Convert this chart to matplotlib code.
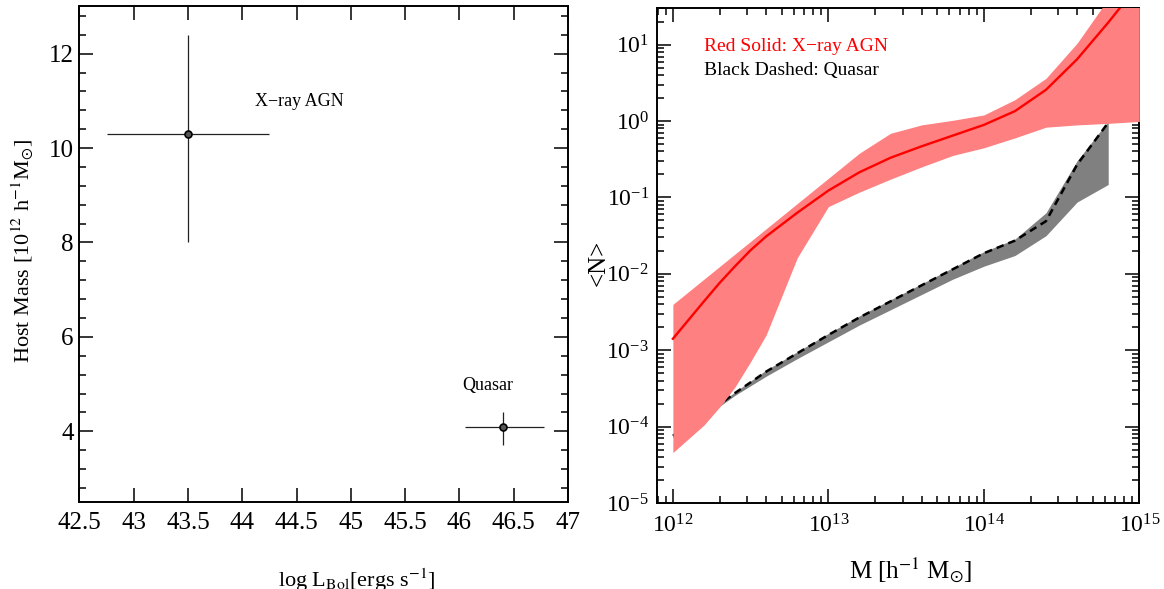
import numpy as np
import matplotlib
matplotlib.use('Agg')
import matplotlib.pyplot as plt
from matplotlib.ticker import MultipleLocator, AutoMinorLocator, FormatStrFormatter, LogLocator

plt.rcParams['font.family'] = ['Liberation Serif', 'DejaVu Serif']
plt.rcParams['mathtext.fontset'] = 'stix'

# left panel: host mass vs bolometric luminosity
names = ['X\u2212ray AGN', 'Quasar']
lbol = [43.5, 46.4]
lbol_err_lo = [0.75, 0.35]
lbol_err_hi = [0.75, 0.38]
mhost = [10.3, 4.1]
mhost_err_lo = [2.3, 0.4]
mhost_err_hi = [2.1, 0.3]
label_x = [44.12, 46.03]
label_y = [10.98, 4.98]

# right panel: <N>(M), log10 values
logm = [12.0, 12.2, 12.3, 12.4, 12.5, 12.6, 12.8, 13.0, 13.2, 13.4, 13.6, 13.8,
        14.0, 14.2, 14.4, 14.6, 14.8, 15.0]
agn_mid = [-2.85, -2.36, -2.12, -1.90, -1.69, -1.51, -1.20, -0.91, -0.67, -0.48, -0.33, -0.19,
           -0.05, 0.13, 0.41, 0.81, 1.29, 1.80]
agn_hi = [-2.40, -2.07, -1.905, -1.74, -1.575, -1.41, -1.08, -0.75, -0.42, -0.16, -0.05, 0.01,
          0.08, 0.28, 0.56, 1.02, 1.60, 2.20]
agn_lo = [-4.34, -3.98, -3.745, -3.48, -3.15, -2.80, -1.79, -1.12, -0.93, -0.76, -0.60, -0.45,
          -0.35, -0.22, -0.08, -0.05, -0.03, -0.005]

logm_q = [12.0, 12.2, 12.4, 12.6, 12.8, 13.0, 13.2, 13.4, 13.6, 13.8,
          14.0, 14.2, 14.4, 14.6, 14.8]
qso_mid = [-4.12, -3.86, -3.56, -3.28, -3.04, -2.80, -2.57, -2.36, -2.15, -1.94,
           -1.73, -1.565, -1.31, -0.57, -0.02]
qso_hi = [-4.11, -3.85, -3.545, -3.26, -3.02, -2.78, -2.55, -2.34, -2.13, -1.92,
          -1.71, -1.545, -1.20, -0.52, 0.0]
qso_lo = [-4.14, -3.88, -3.59, -3.34, -3.11, -2.89, -2.67, -2.47, -2.27, -2.07,
          -1.90, -1.76, -1.50, -1.06, -0.83]

fig = plt.figure(figsize=(11.64, 5.89), dpi=100)
ax1 = fig.add_axes([0.0682, 0.1475, 0.4198, 0.8415])
ax2 = fig.add_axes([0.5647, 0.146, 0.4141, 0.840])

for ax in (ax1, ax2):
    for s in ax.spines.values():
        s.set_linewidth(1.4)
    ax.tick_params(which='both', direction='in', top=True, right=True, width=1.1)
    ax.tick_params(which='major', length=10)
    ax.tick_params(which='minor', length=5)

# ---- left
ax1.errorbar(lbol, mhost, xerr=[lbol_err_lo, lbol_err_hi],
             yerr=[mhost_err_lo, mhost_err_hi], fmt='o', color='#222222',
             ms=5, mfc='#555555', mec='black', mew=1.2, elinewidth=0.9, capsize=0)
for n, x, y in zip(names, label_x, label_y):
    ax1.text(x, y, n, fontsize=13, va='center')
ax1.set_xlim(42.5, 47)
ax1.set_ylim(2.5, 13)
ax1.xaxis.set_major_locator(MultipleLocator(0.5))
ax1.xaxis.set_major_formatter(FormatStrFormatter('%g'))
ax1.yaxis.set_major_locator(MultipleLocator(2))
ax1.yaxis.set_minor_locator(AutoMinorLocator(5))
ax1.tick_params(labelsize=18)
ax1.tick_params(axis='x', pad=7)
ax1.tick_params(axis='y', pad=4)
ax1.set_ylabel(r'Host Mass [10$^{12}$ h$^{-1}$M$_{\odot}$]', fontsize=16, va='center')
ax1.yaxis.set_label_coords(-0.115, 0.507)
ax1.text(0.568, -0.172, r'log L$_{\rm Bol}$[ergs s$^{-1}$]', fontsize=16,
         ha='center', va='baseline', transform=ax1.transAxes)

# ---- right
m = 10.0 ** np.array(logm)
mq = 10.0 ** np.array(logm_q)
ax2.fill_between(mq, 10.0 ** np.array(qso_lo), 10.0 ** np.array(qso_hi),
                 color='#808080', lw=0, zorder=1)
ax2.plot(mq, 10.0 ** np.array(qso_mid), color='black', lw=1.8,
         ls=(0, (3, 2)), zorder=2)
ax2.fill_between(m, 10.0 ** np.array(agn_lo), 10.0 ** np.array(agn_hi),
                 color='#ff8080', lw=0, zorder=3)
ax2.plot(m, 10.0 ** np.array(agn_mid), color='red', lw=1.7, zorder=4)

ax2.set_xscale('log')
ax2.set_yscale('log')
ax2.set_xlim(10 ** 11.9, 1e15)
ax2.set_ylim(1e-5, 30)
ax2.yaxis.set_major_locator(LogLocator(base=10, numticks=20))
ax2.yaxis.set_minor_locator(LogLocator(base=10, subs=np.arange(2, 10), numticks=20))
ax2.tick_params(labelsize=17)
ax2.tick_params(axis='x', pad=8)
ax2.tick_params(axis='y', pad=6)
ax2.text(0.097, 0.914, 'Red Solid: X\u2212ray AGN', color='red', fontsize=14,
         transform=ax2.transAxes)
ax2.text(0.097, 0.865, 'Black Dashed: Quasar', color='black', fontsize=14,
         transform=ax2.transAxes)
ax2.set_ylabel('<N>', fontsize=18, va='center')
ax2.yaxis.set_label_coords(-0.122, 0.485)
ax2.text(0.526, -0.152, r'M [h$^{-1}$ M$_{\odot}$]', fontsize=18,
         ha='center', va='baseline', transform=ax2.transAxes)

fig.savefig('out.png', dpi=100)
